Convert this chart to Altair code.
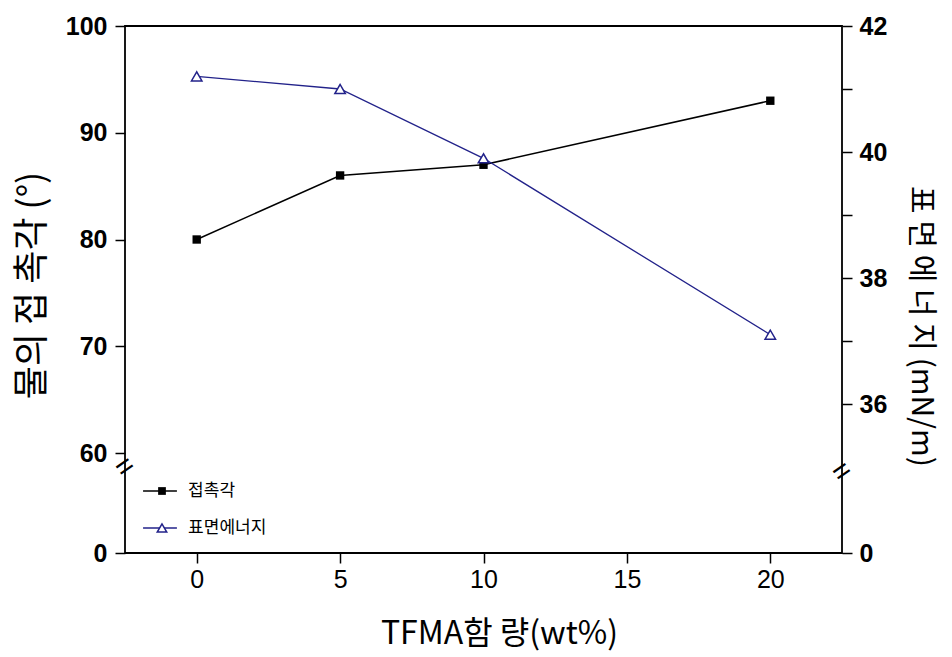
import altair as alt
import pandas as pd

# ---- data ----
tfma = [0, 5, 10, 20]
contact_angle = [80, 86, 87, 93]
surface_energy = [41.2, 41.0, 39.9, 37.1]

x_ticks = [0, 5, 10, 15, 20]
left_ticks = [0, 60, 70, 80, 90, 100]
right_ticks = [0, 36, 37, 38, 39, 40, 41, 42]

legend_labels = ["접촉각", "표면에너지"]
legend_y = [37.2, 15.0]          # in left-axis units (inside the broken part)
legend_line_x = [-1.87, -0.69]
legend_marker_x = -1.21
legend_text_x = -0.30

left_break_y = 51.6
right_break_y = 19.6

W, H = 717, 527
BLACK = "#000000"
NAVY = "#22228a"

df = pd.DataFrame({"tfma": tfma, "angle": contact_angle, "energy": surface_energy})

x_scale = alt.Scale(domain=[-2.5, 22.5], nice=False, zero=False)
yl_scale = alt.Scale(domain=[0, 60, 100], range=[H, 427, 0], nice=False, zero=False)
yr_scale = alt.Scale(domain=[0, 36, 42], range=[H, 378, 0], nice=False, zero=False)

x_axis = alt.Axis(
    values=x_ticks, title="TFMA함 량(wt%)", grid=False, domain=False,
    labelFont="Liberation Sans", labelFontSize=25, labelColor=BLACK, labelPadding=4,
    tickSize=10, tickWidth=1.5, tickColor=BLACK,
    titleFont="Noto Sans CJK KR", titleFontSize=32, titleFontWeight="normal", titleColor=BLACK,
    titleX=374, titleY=80, titleAlign="center", titleBaseline="middle",
)
yl_axis = alt.Axis(
    orient="left", values=left_ticks, title="물의 접 촉각 (°)", grid=False, domain=False,
    labelFont="Liberation Sans", labelFontSize=25, labelFontWeight="bold", labelColor=BLACK,
    labelPadding=8, tickSize=10, tickWidth=1.5, tickColor=BLACK,
    titleFont="Noto Sans CJK KR", titleFontSize=36, titleFontWeight="normal", titleColor=BLACK,
    titleAngle=270, titleX=-93, titleY=259, titleAlign="center", titleBaseline="middle",
)
yr_axis = alt.Axis(
    orient="right", values=right_ticks, title="표 면 에 너 지 (mN/m)", grid=False, domain=False,
    labelExpr="(datum.value == 37 || datum.value == 39 || datum.value == 41) ? '' : datum.label",
    labelFont="Liberation Sans", labelFontSize=25, labelFontWeight="bold", labelColor=BLACK,
    labelPadding=7, tickSize=10, tickWidth=1.5, tickColor=BLACK,
    titleFont="Noto Sans CJK KR", titleFontSize=30, titleFontWeight="normal", titleColor=BLACK,
    titleAngle=90, titleX=78, titleY=300, titleAlign="center", titleBaseline="middle",
)


def X(field):
    return alt.X(field, type="quantitative", scale=x_scale, axis=x_axis)


def YL(field):
    return alt.Y(field, type="quantitative", scale=yl_scale, axis=yl_axis)


def YR(field):
    return alt.Y(field, type="quantitative", scale=yr_scale, axis=yr_axis)


base = alt.Chart(df)

line_c = base.mark_line(color=BLACK, strokeWidth=1.5).encode(x=X("tfma"), y=YL("angle"))
pts_c = base.mark_point(shape="square", filled=True, color=BLACK, size=70, opacity=1).encode(
    x=X("tfma"), y=YL("angle"))

leg_df = pd.DataFrame({
    "label": legend_labels,
    "ly": legend_y,
    "x1": [legend_line_x[0]] * 2,
    "x2": [legend_line_x[1]] * 2,
    "xm": [legend_marker_x] * 2,
    "xt": [legend_text_x] * 2,
    "col": [BLACK, NAVY],
})
leg_rules = alt.Chart(leg_df).mark_rule(strokeWidth=1.5).encode(
    x=X("x1"), x2="x2:Q", y=YL("ly"), color=alt.Color("col:N", scale=None))
leg_sq = alt.Chart(leg_df.iloc[[0]]).mark_point(shape="square", filled=True, color=BLACK, size=60,
                                                opacity=1).encode(x=X("xm"), y=YL("ly"))
leg_tri = alt.Chart(leg_df.iloc[[1]]).mark_point(shape="triangle-up", filled=True, fill="white", stroke=NAVY,
                                                 strokeWidth=1.5, size=90, opacity=1).encode(x=X("xm"), y=YL("ly"))
leg_txt = alt.Chart(leg_df).mark_text(align="left", baseline="middle", font="Noto Sans CJK KR",
                                      fontSize=17, color=BLACK).encode(x=X("xt"), y=YL("ly"), text="label:N")

brk_l = alt.Chart(pd.DataFrame({"bx": [-2.5], "by": [left_break_y]})).mark_text(
    text="=", angle=325, fontSize=30, font="Liberation Sans", color=BLACK, baseline="middle", align="center"
).encode(x=X("bx"), y=YL("by"))

left = alt.layer(line_c, pts_c, leg_rules, leg_sq, leg_tri, leg_txt, brk_l)

line_e = base.mark_line(color=NAVY, strokeWidth=1.3).encode(x=X("tfma"), y=YR("energy"))
pts_e = base.mark_point(shape="triangle-up", filled=True, fill="white", stroke=NAVY,
                        strokeWidth=1.5, size=110, opacity=1).encode(x=X("tfma"), y=YR("energy"))
brk_r = alt.Chart(pd.DataFrame({"bx": [22.5], "by": [right_break_y]})).mark_text(
    text="=", angle=325, fontSize=30, font="Liberation Sans", color=BLACK, baseline="middle", align="center"
).encode(x=X("bx"), y=YR("by"))

right = alt.layer(line_e, pts_e, brk_r)

chart = alt.layer(left, right).resolve_scale(y="independent").properties(
    width=W, height=H,
    autosize=alt.AutoSizeParams(type="none"),
    padding={"left": 125, "top": 26, "right": 110, "bottom": 104},
    background="white",
).configure_view(stroke=BLACK, strokeWidth=1.8)

chart.save("out.html", embed_options={"renderer": "svg", "actions": False})
